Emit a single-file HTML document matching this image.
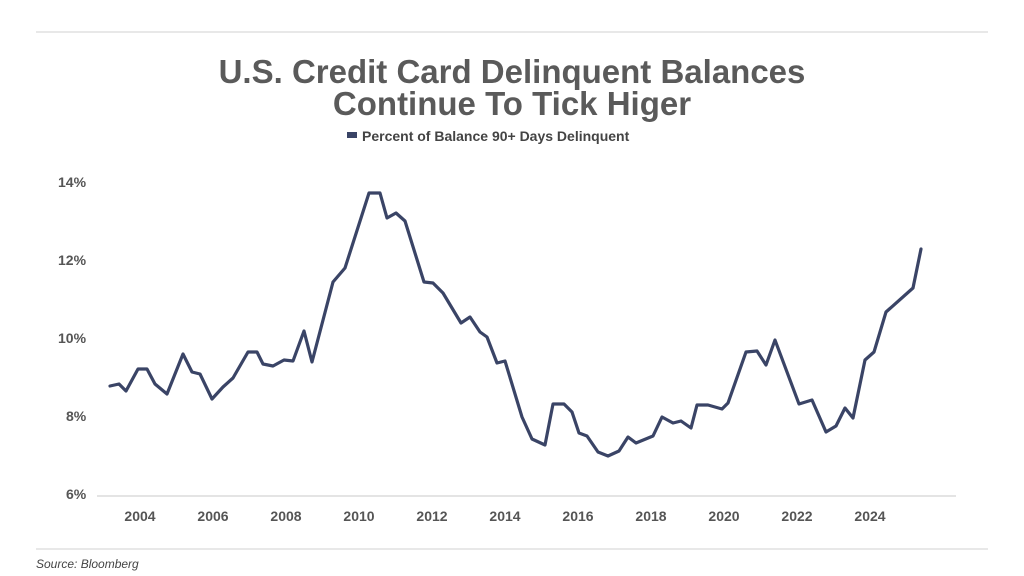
<!DOCTYPE html>
<html><head><meta charset="utf-8"><style>
html,body{margin:0;padding:0;background:#fff;}
body{width:1024px;height:576px;overflow:hidden;position:relative;font-family:"Liberation Sans",sans-serif;}
</style></head><body>
<svg width="1024" height="576" viewBox="0 0 1024 576" xmlns="http://www.w3.org/2000/svg" style="position:absolute;left:0;top:0">
<line x1="36" y1="32" x2="988" y2="32" stroke="#e0e0e0" stroke-width="1.5"/>
<line x1="36" y1="549" x2="988" y2="549" stroke="#e0e0e0" stroke-width="1.5"/>
<g font-family="Liberation Sans, sans-serif" font-weight="bold" fill="#5a5a5a" text-anchor="middle" font-size="33">
<text x="512" y="83">U.S. Credit Card Delinquent Balances</text>
<text x="512" y="115">Continue To Tick Higer</text>
</g>
<rect x="347" y="132" width="10" height="6" fill="#3a4466"/>
<text x="362" y="141" font-family="Liberation Sans, sans-serif" font-weight="bold" font-size="14" fill="#444">Percent of Balance 90+ Days Delinquent</text>
<g font-family="Liberation Sans, sans-serif" font-weight="bold" font-size="14" fill="#555">
<text x="58" y="187">14%</text>
<text x="58" y="265">12%</text>
<text x="58" y="343">10%</text>
<text x="66" y="421">8%</text>
<text x="66" y="499">6%</text>
</g>
<line x1="97" y1="496" x2="956" y2="496" stroke="#dcdcdc" stroke-width="1.5"/>
<g font-family="Liberation Sans, sans-serif" font-weight="bold" font-size="14" fill="#555" text-anchor="middle">
<text x="140" y="521">2004</text><text x="213" y="521">2006</text><text x="286" y="521">2008</text>
<text x="359" y="521">2010</text><text x="432" y="521">2012</text><text x="505" y="521">2014</text>
<text x="578" y="521">2016</text><text x="651" y="521">2018</text><text x="724" y="521">2020</text>
<text x="797" y="521">2022</text><text x="870" y="521">2024</text>
</g>
<polyline fill="none" stroke="#3a4466" stroke-width="3.2" stroke-linejoin="round" stroke-linecap="round" points="110,386 119,384 126,391 138,369 147,369 155,384 167,394 183,354 192,372 200,374 212,399 223,387 233,378 248,352 257,352 263,364 273,366 284,360 293,361 304,331 312,362 333,282 345,268 369,193 380,193 387,218 396,213 405,221 424,282 433,283 443,293 461,323 470,317 480,332 487,337 497,363 505,361 522,417 532,439 545,445 553,404 564,404 572,412 579,433 587,436 598,452 608,456 619,451 628,437 636,443 653,436 662,417 673,423 681,421 691,428 697,405 708,405 722,409 728,403 746,352 757,351 766,365 775,340 799,404 812,400 826,432 836,426 845,408 853,418 865,360 874,352 886,312 913,288 921,249"/>
<text x="36" y="568" font-family="Liberation Sans, sans-serif" font-style="italic" font-size="12" fill="#444">Source: Bloomberg</text>
</svg>
</body></html>
